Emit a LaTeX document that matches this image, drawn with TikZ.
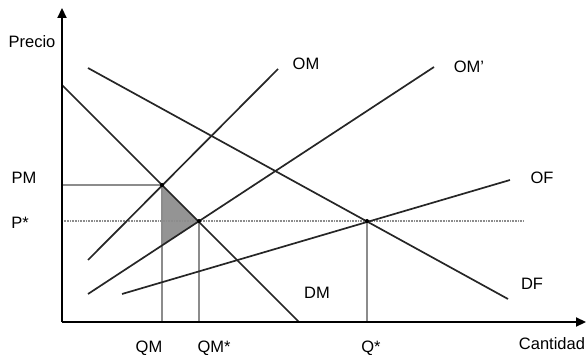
\documentclass[tikz,border=0pt]{standalone}
\usepackage{fontspec}
\setmainfont{Liberation Sans}
\usetikzlibrary{arrows.meta}
\begin{document}
\begin{tikzpicture}[x=1pt,y=-1pt,
  axis/.style={line width=2.2pt,black,-{Triangle[length=10pt,width=9pt]}},
  curve/.style={line width=1.7pt,black!85},
  guide/.style={line width=1.2pt,black!45},
  dotline/.style={line width=1.4pt,black!45,dash pattern=on 1pt off 0.6pt},
  lbl/.style={font=\fontsize{16.5}{19}\selectfont,inner sep=0pt},
  dot/.style={circle,fill=black,inner sep=0pt,minimum size=4pt}]
\useasboundingbox (0,0) rectangle (586,355);
% coordinates
\coordinate (O) at (62,322);
\coordinate (Ytop) at (62,8);
\coordinate (Xend) at (586,322);
\coordinate (DMs) at (62,85);
\coordinate (DMe) at (299,322);
\coordinate (DFs) at (88,68);
\coordinate (DFe) at (508,299);
\coordinate (OMs) at (88,260);
\coordinate (OMe) at (278,69);
\coordinate (OMps) at (88,294);
\coordinate (OMpe) at (434,67);
\coordinate (OFs) at (122,294);
\coordinate (OFe) at (510,180);
\coordinate (A) at (162,185);
\coordinate (B) at (199,221);
\coordinate (C) at (367,221);
\coordinate (T) at (162,246);
\coordinate (PMy) at (62,185);
\coordinate (Py) at (62,221);
\coordinate (Pend) at (524,221);
\coordinate (QMx) at (162,322);
\coordinate (QMsx) at (199,322);
\coordinate (Qx) at (367,322);
% shaded triangle
\fill[black!42] (A) -- (B) -- (T) -- cycle;
% guides
\draw[guide] (PMy) -- (A);
\draw[dotline] (Py) -- (Pend);
\draw[guide] (A) -- (QMx);
\draw[guide] (B) -- (QMsx);
\draw[guide] (C) -- (Qx);
% curves
\draw[curve] (DMs) -- (DMe);
\draw[curve] (DFs) -- (DFe);
\draw[curve] (OMs) -- (OMe);
\draw[curve] (OMps) -- (OMpe);
\draw[curve] (OFs) -- (OFe);
% axes
\draw[axis] (O) -- (Ytop);
\draw[axis] (O) -- (Xend);
% dots
\node[dot] (dA) at (A) {};
\node[dot] (dB) at (B) {};
\node[dot] (dC) at (C) {};
% labels
\node[lbl] (precio) at (32,42) {Precio};
\node[lbl] (pm) at (24,178) {PM};
\node[lbl] (ps) at (20,223) {P*};
\node[lbl] (om) at (306,64) {OM};
\node[lbl] (omp) at (469,67) {OM'};
\node[lbl] (of) at (542,178) {OF};
\node[lbl] (df) at (532,284) {DF};
\node[lbl] (dm) at (317,293) {DM};
\node[lbl] (cant) at (552,344) {Cantidad};
\node[lbl] (qm) at (149,348) {QM};
\node[lbl] (qms) at (214,348) {QM*};
\node[lbl] (qs) at (371,348) {Q*};
\end{tikzpicture}
\end{document}
